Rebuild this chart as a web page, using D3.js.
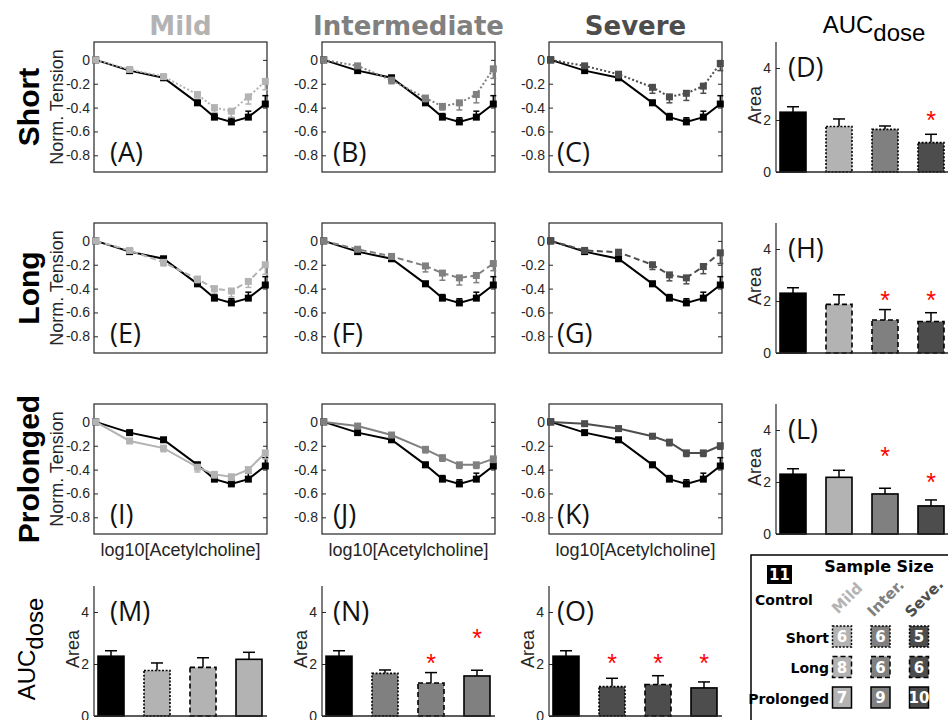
<!DOCTYPE html>
<html><head><meta charset="utf-8">
<script src="https://cdn.jsdelivr.net/npm/d3@7"></script>
<style>body{margin:0;background:#fff} svg{display:block}</style>
</head><body><svg id="c" width="948" height="720"></svg>
<script>
// ---------------- DATA ----------------
const severities = ["Mild", "Intermediate", "Severe"];
const severityShort = ["Mild", "Inter.", "Seve."];
const durations = ["Short", "Long", "Prolonged"];
const concentrations = [-9, -8, -7, -6, -5.5, -5, -4.5, -4];
const yTicksTension = [0, -0.2, -0.4, -0.6, -0.8];
const yTicksArea = [0, 2, 4];

const controlMean = [0, -0.09, -0.15, -0.36, -0.48, -0.52, -0.48, -0.37];
const controlErr  = [0, 0.01, 0.015, 0.02, 0.03, 0.035, 0.05, 0.07];

const shortMildMean = [0, -0.08, -0.14, -0.29, -0.40, -0.43, -0.31, -0.18];
const shortMildErr  = [0, 0.01, 0.02, 0.03, 0.04, 0.05, 0.06, 0.07];
const shortInterMean = [0, -0.05, -0.17, -0.32, -0.39, -0.36, -0.29, -0.075];
const shortInterErr  = [0, 0.02, 0.03, 0.03, 0.03, 0.06, 0.07, 0.08];
const shortSevereMean = [0, -0.05, -0.12, -0.23, -0.31, -0.28, -0.22, -0.03];
const shortSevereErr  = [0, 0.02, 0.03, 0.05, 0.05, 0.06, 0.06, 0.06];

const longMildMean = [0, -0.08, -0.18, -0.32, -0.40, -0.42, -0.34, -0.20];
const longMildErr  = [0, 0.01, 0.03, 0.03, 0.04, 0.05, 0.05, 0.08];
const longInterMean = [0, -0.07, -0.13, -0.21, -0.27, -0.31, -0.29, -0.19];
const longInterErr  = [0, 0.01, 0.02, 0.05, 0.06, 0.06, 0.06, 0.06];
const longSevereMean = [0, -0.08, -0.095, -0.20, -0.285, -0.31, -0.215, -0.10];
const longSevereErr  = [0, 0.01, 0.02, 0.04, 0.05, 0.05, 0.06, 0.09];

const prolongedMildMean = [0, -0.16, -0.22, -0.38, -0.44, -0.46, -0.40, -0.26];
const prolongedMildErr  = [0, 0.02, 0.03, 0.04, 0.03, 0.03, 0.03, 0.05];
const prolongedInterMean = [0, -0.035, -0.11, -0.23, -0.30, -0.36, -0.36, -0.31];
const prolongedInterErr  = [0, 0.02, 0.02, 0.03, 0.03, 0.03, 0.03, 0.03];
const prolongedSevereMean = [0, -0.015, -0.056, -0.12, -0.17, -0.26, -0.26, -0.20];
const prolongedSevereErr  = [0, 0.01, 0.02, 0.02, 0.03, 0.03, 0.03, 0.03];

// AUC (Area) : [Mild, Intermediate, Severe]
const aucControl = 2.30, aucControlErr = 0.21;
const aucShort = [1.75, 1.64, 1.13], aucShortErr = [0.29, 0.13, 0.32];
const aucLong = [1.87, 1.27, 1.21], aucLongErr = [0.37, 0.40, 0.34];
const aucProlonged = [2.18, 1.54, 1.08], aucProlongedErr = [0.27, 0.22, 0.23];

// significance star heights (Area units); index = bar index within panel (1..3)
const starsShortRow = [{bar: 3, v: 2.17}];
const starsLongRow = [{bar: 2, v: 2.19}, {bar: 3, v: 2.19}];
const starsProlongedRow = [{bar: 2, v: 3.17}, {bar: 3, v: 2.16}];
const starsMildCol = [];
const starsInterCol = [{bar: 2, v: 2.19}, {bar: 3, v: 3.17}];
const starsSevereCol = [{bar: 1, v: 2.19}, {bar: 2, v: 2.19}, {bar: 3, v: 2.19}];

const sampleControl = 11;
const sampleShort = [6, 6, 5];
const sampleLong = [8, 6, 6];
const sampleProlonged = [7, 9, 10];

const lineLetters = [["A","B","C"],["E","F","G"],["I","J","K"]];
const rowBarLetters = ["D","H","L"];
const colBarLetters = ["M","N","O"];

// ---------------- STYLE / LAYOUT ----------------
const sevColors = ["#b3b3b3", "#808080", "#4d4d4d"];
const durDash = ["2,2.2", "6,3.5", null];
const barDash = ["2,1.6", "5,3", null];
const axisColor = "#262626";
const colX = [94, 322, 549, 776];
const rowY = [42, 223, 404, 586];
const labelDx = [16, 11, 8, 12];
const W = 173, H = 130;
const sansFont = "'Liberation Sans', Arial, sans-serif";
const boldFont = "'DejaVu Sans', Verdana, sans-serif";
const labFont = "'Open Sans', sans-serif";

const curves = {
  Short: {Mild: [shortMildMean, shortMildErr], Intermediate: [shortInterMean, shortInterErr], Severe: [shortSevereMean, shortSevereErr]},
  Long: {Mild: [longMildMean, longMildErr], Intermediate: [longInterMean, longInterErr], Severe: [longSevereMean, longSevereErr]},
  Prolonged: {Mild: [prolongedMildMean, prolongedMildErr], Intermediate: [prolongedInterMean, prolongedInterErr], Severe: [prolongedSevereMean, prolongedSevereErr]}
};
const aucByDur = {Short: [aucShort, aucShortErr], Long: [aucLong, aucLongErr], Prolonged: [aucProlonged, aucProlongedErr]};
const starsRow = [starsShortRow, starsLongRow, starsProlongedRow];
const starsCol = [starsMildCol, starsInterCol, starsSevereCol];
const samples = [sampleShort, sampleLong, sampleProlonged];

const svg = d3.select("#c");
const x = d3.scaleLinear().domain([-9.05, -3.95]).range([0, W]);
const yL = d3.scaleLinear().domain([-0.94, 0.15]).range([H, 0]);
const yB = d3.scaleLinear().domain([0, 5]).range([H, 0]);
const xB = d3.scaleBand().domain([0, 1, 2, 3]).range([-6, W + 5]).padding(0);
const barW = 26;
const fmt = d => d === 0 ? "0" : d.toFixed(1);

function styleAxis(sel, showText) {
  sel.selectAll("path.domain").remove();
  sel.selectAll("line").attr("stroke", axisColor).attr("stroke-width", 1);
  sel.selectAll("text").attr("fill", axisColor).style("font-family", sansFont).style("font-size", "14px");
  if (!showText) sel.selectAll("text").remove();
}

function drawSeries(g, mean, err, color, dash, dir, lw) {
  const pts = concentrations.map((c, i) => ({c, m: mean[i], e: err[i]}));
  const eb = g.append("g").attr("stroke", color).attr("stroke-width", 1.5);
  eb.selectAll("line.v").data(pts.filter(p => p.e > 0)).join("line")
    .attr("x1", p => x(p.c)).attr("x2", p => x(p.c))
    .attr("y1", p => yL(p.m)).attr("y2", p => yL(p.m + dir * p.e));
  eb.selectAll("line.h").data(pts.filter(p => p.e > 0)).join("line")
    .attr("x1", p => x(p.c) - 3).attr("x2", p => x(p.c) + 3)
    .attr("y1", p => yL(p.m + dir * p.e)).attr("y2", p => yL(p.m + dir * p.e));
  g.append("path").datum(pts)
    .attr("d", d3.line().x(p => x(p.c)).y(p => yL(p.m)))
    .attr("fill", "none").attr("stroke", color).attr("stroke-width", lw)
    .attr("stroke-dasharray", dash);
  g.append("g").selectAll("rect").data(pts).join("rect")
    .attr("x", p => x(p.c) - 3.5).attr("y", p => yL(p.m) - 3.5)
    .attr("width", 7).attr("height", 7).attr("fill", color);
}

// ---------- line panels ----------
durations.forEach((dur, r) => {
  severities.forEach((sev, c) => {
    const g = svg.append("g").attr("transform", `translate(${colX[c]},${rowY[r]})`);
    g.append("rect").attr("width", W).attr("height", H).attr("fill", "#fff")
      .attr("stroke", axisColor).attr("stroke-width", 1.2);
    g.append("g").call(d3.axisLeft(yL).tickValues(yTicksTension).tickSize(-4).tickSizeOuter(0).tickPadding(4).tickFormat(fmt))
      .call(s => styleAxis(s, true));
    g.append("g").attr("transform", `translate(${W},0)`)
      .call(d3.axisRight(yL).tickValues(yTicksTension).tickSize(-4).tickSizeOuter(0))
      .call(s => styleAxis(s, false));
    drawSeries(g, controlMean, controlErr, "#000", null, 1, 2);
    const [m, e] = curves[dur][sev];
    drawSeries(g, m, e, sevColors[c], durDash[r], -1, 2);
    g.append("text").attr("x", labelDx[c]).attr("y", 120)
      .style("font-family", labFont).style("font-size", "27px").attr("fill", "#111")
      .text(`(${lineLetters[r][c]})`);
    if (c === 0) {
      g.append("text").attr("transform", `translate(-31,${H / 2}) rotate(-90)`)
        .attr("text-anchor", "middle").style("font-family", sansFont).style("font-size", "18px")
        .attr("fill", axisColor).text("Norm. Tension");
    }
    if (r === 2) {
      g.append("text").attr("x", W / 2).attr("y", H + 22).attr("text-anchor", "middle")
        .style("font-family", sansFont).style("font-size", "18px").attr("fill", axisColor)
        .text("log10[Acetylcholine]");
    }
  });
});

// ---------- bar panels ----------
function drawBars(g, bars, stars, letter, dxLabel) {
  g.append("g").call(d3.axisLeft(yB).tickValues(yTicksArea).tickSize(-4).tickSizeOuter(0).tickPadding(5).tickFormat(d3.format("d")))
    .call(s => styleAxis(s, true));
  g.append("line").attr("x1", 0).attr("x2", 0).attr("y1", 0).attr("y2", H).attr("stroke", axisColor).attr("stroke-width", 1.2);
  const eg = g.append("g").attr("stroke", "#000").attr("stroke-width", 1.5);
  eg.selectAll("line.v").data(bars).join("line")
    .attr("x1", (d, i) => xB(i) + xB.bandwidth() / 2).attr("x2", (d, i) => xB(i) + xB.bandwidth() / 2)
    .attr("y1", d => yB(d.v)).attr("y2", d => yB(d.v + d.e));
  eg.selectAll("line.h").data(bars).join("line")
    .attr("x1", (d, i) => xB(i) + xB.bandwidth() / 2 - 6).attr("x2", (d, i) => xB(i) + xB.bandwidth() / 2 + 6)
    .attr("y1", d => yB(d.v + d.e)).attr("y2", d => yB(d.v + d.e));
  g.append("g").selectAll("rect").data(bars).join("rect")
    .attr("x", (d, i) => xB(i) + xB.bandwidth() / 2 - barW / 2).attr("width", barW)
    .attr("y", d => yB(d.v)).attr("height", d => yB(0) - yB(d.v))
    .attr("fill", d => d.fill).attr("stroke", "#000").attr("stroke-width", 1.6)
    .attr("stroke-dasharray", d => d.dash);
  g.append("line").attr("x1", 0).attr("x2", W).attr("y1", H).attr("y2", H).attr("stroke", axisColor).attr("stroke-width", 1.5);
  g.append("g").selectAll("text").data(stars).join("text")
    .attr("x", d => xB(d.bar) + xB.bandwidth() / 2).attr("y", d => yB(d.v) + 13)
    .attr("text-anchor", "middle").attr("fill", "#ff0000")
    .style("font-family", sansFont).style("font-size", "25px").text("*");
  g.append("text").attr("x", dxLabel).attr("y", 35)
    .style("font-family", labFont).style("font-size", "27px").attr("fill", "#111").text(`(${letter})`);
  g.append("text").attr("transform", `translate(-15,${H / 2 - 2}) rotate(-90)`)
    .attr("text-anchor", "middle").style("font-family", sansFont).style("font-size", "18px")
    .attr("fill", axisColor).text("Area");
}

durations.forEach((dur, r) => {
  const [vals, errs] = aucByDur[dur];
  const bars = [{v: aucControl, e: aucControlErr, fill: "#000", dash: null}]
    .concat(vals.map((v, i) => ({v, e: errs[i], fill: sevColors[i], dash: barDash[r]})));
  const g = svg.append("g").attr("transform", `translate(${colX[3]},${rowY[r]})`);
  drawBars(g, bars, starsRow[r], rowBarLetters[r], labelDx[3]);
});

severities.forEach((sev, c) => {
  const bars = [{v: aucControl, e: aucControlErr, fill: "#000", dash: null}]
    .concat(durations.map((dur, r) => ({v: aucByDur[dur][0][c], e: aucByDur[dur][1][c], fill: sevColors[c], dash: barDash[r]})));
  const g = svg.append("g").attr("transform", `translate(${colX[c]},${rowY[3]})`);
  drawBars(g, bars, starsCol[c], colBarLetters[c], labelDx[c]);
});

// ---------- titles ----------
severities.forEach((sev, c) => {
  svg.append("text").attr("x", colX[c] + W / 2).attr("y", 35).attr("text-anchor", "middle")
    .style("font-family", boldFont).style("font-weight", "bold").style("font-size", "26px")
    .attr("fill", sevColors[c]).text(sev);
});
durations.forEach((dur, r) => {
  svg.append("text").attr("transform", `translate(39,${rowY[r] + H / 2}) rotate(-90)`)
    .attr("text-anchor", "middle").style("font-family", sansFont).style("font-weight", "bold")
    .style("font-size", "30px").attr("fill", "#000").text(dur);
});
function aucTitle(sel) {
  sel.style("font-family", sansFont).style("font-size", "24px").attr("fill", "#000");
  sel.append("tspan").text("AUC");
  sel.append("tspan").attr("dy", 8).text("dose");
}
svg.append("text").attr("x", 874).attr("y", 33).attr("text-anchor", "middle").call(aucTitle);
svg.append("text").attr("transform", "translate(35,649) rotate(-90)").attr("text-anchor", "middle").call(aucTitle);

// ---------- sample-size legend ----------
const lg = svg.append("g");
lg.append("rect").attr("x", 751).attr("y", 555).attr("width", 200).attr("height", 172)
  .attr("fill", "#fff").attr("stroke", "#000").attr("stroke-width", 1.5);
lg.append("text").attr("x", 879).attr("y", 572).attr("text-anchor", "middle")
  .style("font-family", boldFont).style("font-weight", "bold").style("font-size", "16px").text("Sample Size");
lg.append("rect").attr("x", 767).attr("y", 565).attr("width", 25).attr("height", 19).attr("fill", "#000");
lg.append("text").attr("x", 779.5).attr("y", 580).attr("text-anchor", "middle").attr("fill", "#fff")
  .style("font-family", boldFont).style("font-weight", "bold").style("font-size", "15px").text(sampleControl);
lg.append("text").attr("x", 755).attr("y", 605)
  .style("font-family", boldFont).style("font-weight", "bold").style("font-size", "14px").text("Control");
const lgX = d3.scalePoint().domain(severityShort).range([842, 919]);
const lgY = d3.scalePoint().domain(durations).range([636.5, 697.5]);
severityShort.forEach((s, c) => {
  lg.append("text").attr("transform", `translate(${lgX(s) + 5},${598}) rotate(-45)`)
    .attr("text-anchor", "middle").attr("dy", "0.35em").attr("fill", sevColors[c])
    .style("font-family", boldFont).style("font-weight", "bold").style("font-size", "15px").text(s);
});
durations.forEach((dur, r) => {
  lg.append("text").attr("x", 829).attr("y", lgY(dur) + 6).attr("text-anchor", "end")
    .style("font-family", boldFont).style("font-weight", "bold").style("font-size", "14px").text(dur);
  samples[r].forEach((n, c) => {
    const cx = lgX(severityShort[c]), cy = lgY(dur);
    lg.append("rect").attr("x", cx - 9.5).attr("y", cy - 10.5).attr("width", 19).attr("height", 21)
      .attr("fill", sevColors[c]).attr("stroke", "#000").attr("stroke-width", 1.5)
      .attr("stroke-dasharray", barDash[r]);
    lg.append("text").attr("x", cx).attr("y", cy + 5.5).attr("text-anchor", "middle").attr("fill", "#fff")
      .style("font-family", boldFont).style("font-weight", "bold").style("font-size", "15px").text(n);
  });
});
</script>
</body></html>
